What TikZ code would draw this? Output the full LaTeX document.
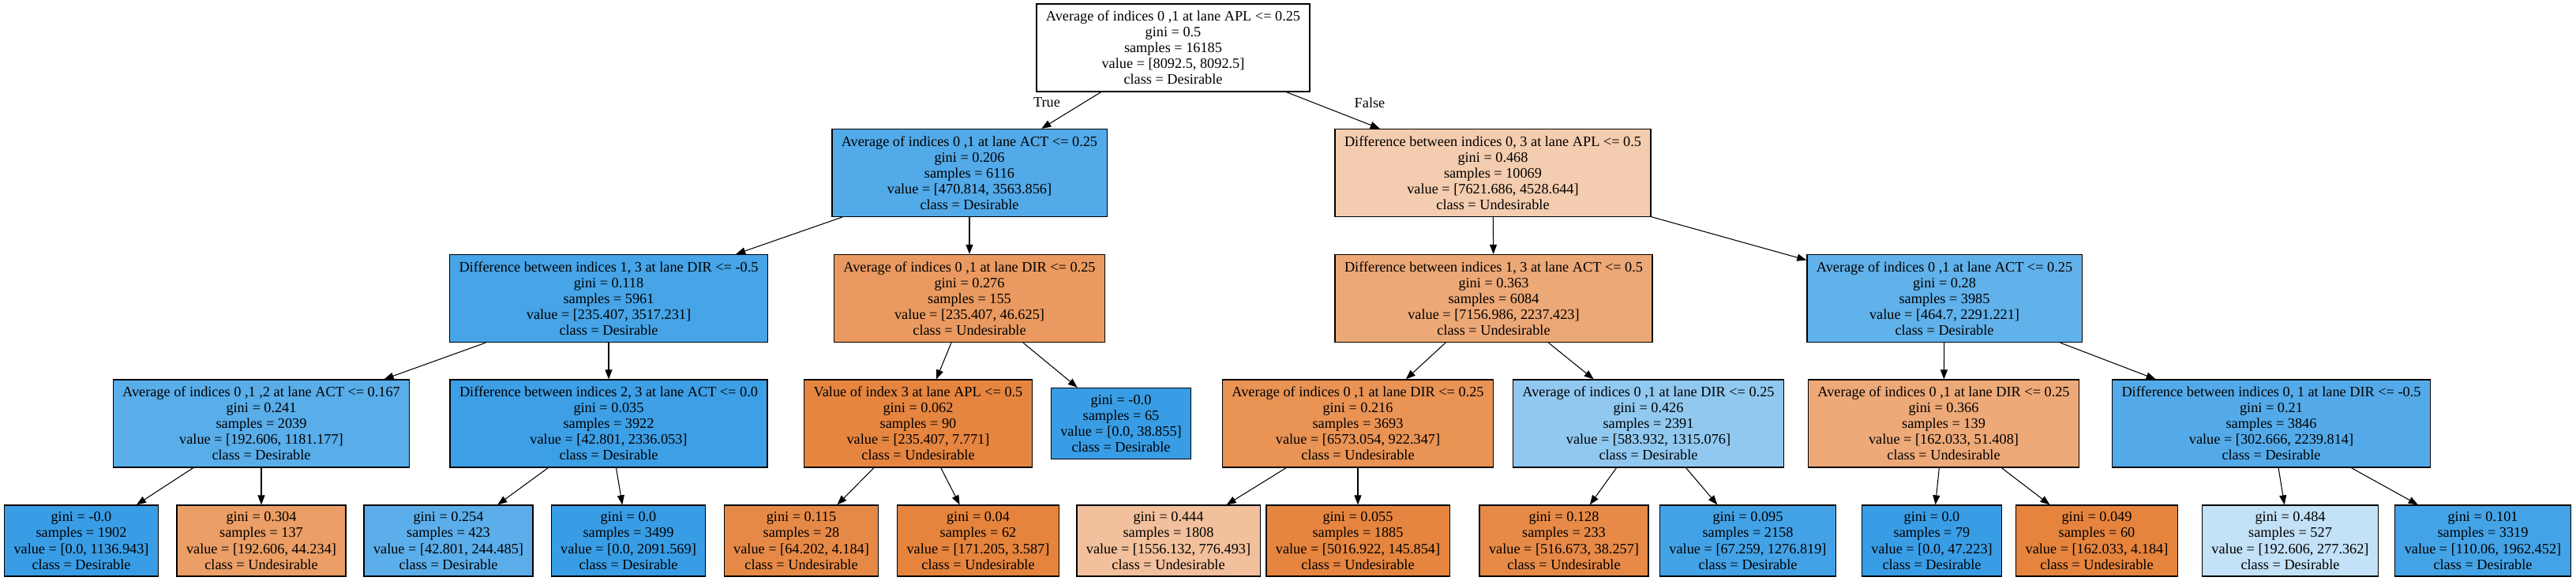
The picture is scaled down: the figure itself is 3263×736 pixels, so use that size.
\documentclass[tikz,border=0pt]{standalone}
\usepackage{fontspec}
\setmainfont{Liberation Serif}
\usetikzlibrary{arrows.meta}
\begin{document}
\begin{tikzpicture}[x=0.02cm,y=-0.02cm,font=\fontsize{10.4}{11.4}\selectfont,
 split/.style={draw,line width=0.7pt,align=center,inner xsep=0.24cm,inner ysep=0pt,minimum height=2.22cm},
 leaf/.style={split,minimum height=1.8cm},
 arr/.style={-{Triangle[length=0.24cm,width=0.18cm]},line width=0.6pt}]
 \useasboundingbox(0,0)rectangle(3263,736);
 % root
 \node[split](R) at (1486,60.5){Average of indices 0 ,1 at lane APL <= 0.25\\gini = 0.5\\samples = 16185\\value = [8092.5, 8092.5]\\class = Desirable};
 % second level
 \node[split,fill={rgb,255:red,83;green,170;blue,232}](A1) at (1228,219){Average of indices 0 ,1 at lane ACT <= 0.25\\gini = 0.206\\samples = 6116\\value = [470.814, 3563.856]\\class = Desirable};
 \node[split,fill={rgb,255:red,244;green,204;blue,175}](A2) at (1891,219){Difference between indices 0, 3 at lane APL <= 0.5\\gini = 0.468\\samples = 10069\\value = [7621.686, 4528.644]\\class = Undesirable};
 % third level
 \node[split,fill={rgb,255:red,70;green,164;blue,231}](B1) at (771,378){Difference between indices 1, 3 at lane DIR <= -0.5\\gini = 0.118\\samples = 5961\\value = [235.407, 3517.231]\\class = Desirable};
 \node[split,fill={rgb,255:red,234;green,154;blue,96}](B2) at (1228,378){Average of indices 0 ,1 at lane DIR <= 0.25\\gini = 0.276\\samples = 155\\value = [235.407, 46.625]\\class = Undesirable};
 \node[split,fill={rgb,255:red,237;green,168;blue,119}](B3) at (1892,378){Difference between indices 1, 3 at lane ACT <= 0.5\\gini = 0.363\\samples = 6084\\value = [7156.986, 2237.423]\\class = Undesirable};
 \node[split,fill={rgb,255:red,97;green,177;blue,234}](B4) at (2463,378){Average of indices 0 ,1 at lane ACT <= 0.25\\gini = 0.28\\samples = 3985\\value = [464.7, 2291.221]\\class = Desirable};
 % fourth level
 \node[split,fill={rgb,255:red,89;green,173;blue,233}](C1) at (331,536.5){Average of indices 0 ,1 ,2 at lane ACT <= 0.167\\gini = 0.241\\samples = 2039\\value = [192.606, 1181.177]\\class = Desirable};
 \node[split,fill={rgb,255:red,61;green,159;blue,230}](C2) at (771,536.5){Difference between indices 2, 3 at lane ACT <= 0.0\\gini = 0.035\\samples = 3922\\value = [42.801, 2336.053]\\class = Desirable};
 \node[split,fill={rgb,255:red,230;green,133;blue,64}](C3) at (1163,536.5){Value of index 3 at lane APL <= 0.5\\gini = 0.062\\samples = 90\\value = [235.407, 7.771]\\class = Undesirable};
 \node[leaf,fill={rgb,255:red,57;green,157;blue,229}](C4) at (1420,536.5){gini = -0.0\\samples = 65\\value = [0.0, 38.855]\\class = Desirable};
 \node[split,fill={rgb,255:red,233;green,147;blue,85}](C5) at (1720,536.5){Average of indices 0 ,1 at lane DIR <= 0.25\\gini = 0.216\\samples = 3693\\value = [6573.054, 922.347]\\class = Undesirable};
 \node[split,fill={rgb,255:red,145;green,200;blue,240}](C6) at (2088,536.5){Average of indices 0 ,1 at lane DIR <= 0.25\\gini = 0.426\\samples = 2391\\value = [583.932, 1315.076]\\class = Desirable};
 \node[split,fill={rgb,255:red,237;green,169;blue,120}](C7) at (2462,536.5){Average of indices 0 ,1 at lane DIR <= 0.25\\gini = 0.366\\samples = 139\\value = [162.033, 51.408]\\class = Undesirable};
 \node[split,fill={rgb,255:red,84;green,170;blue,233}](C8) at (2877,536.5){Difference between indices 0, 1 at lane DIR <= -0.5\\gini = 0.21\\samples = 3846\\value = [302.666, 2239.814]\\class = Desirable};
 % leaves
 \node[leaf,fill={rgb,255:red,57;green,157;blue,229}](D1) at (103,685){gini = -0.0\\samples = 1902\\value = [0.0, 1136.943]\\class = Desirable};
 \node[leaf,fill={rgb,255:red,235;green,158;blue,102}](D2) at (331,685){gini = 0.304\\samples = 137\\value = [192.606, 44.234]\\class = Undesirable};
 \node[leaf,fill={rgb,255:red,92;green,174;blue,234}](D3) at (568,685){gini = 0.254\\samples = 423\\value = [42.801, 244.485]\\class = Desirable};
 \node[leaf,fill={rgb,255:red,57;green,157;blue,229}](D4) at (796,685){gini = 0.0\\samples = 3499\\value = [0.0, 2091.569]\\class = Desirable};
 \node[leaf,fill={rgb,255:red,231;green,137;blue,70}](D5) at (1015,685){gini = 0.115\\samples = 28\\value = [64.202, 4.184]\\class = Undesirable};
 \node[leaf,fill={rgb,255:red,230;green,132;blue,61}](D6) at (1239,685){gini = 0.04\\samples = 62\\value = [171.205, 3.587]\\class = Undesirable};
 \node[leaf,fill={rgb,255:red,242;green,192;blue,156}](D7) at (1480,685){gini = 0.444\\samples = 1808\\value = [1556.132, 776.493]\\class = Undesirable};
 \node[leaf,fill={rgb,255:red,230;green,133;blue,63}](D8) at (1720,685){gini = 0.055\\samples = 1885\\value = [5016.922, 145.854]\\class = Undesirable};
 \node[leaf,fill={rgb,255:red,231;green,138;blue,72}](D9) at (1981,685){gini = 0.128\\samples = 233\\value = [516.673, 38.257]\\class = Undesirable};
 \node[leaf,fill={rgb,255:red,67;green,162;blue,230}](D10) at (2214,685){gini = 0.095\\samples = 2158\\value = [67.259, 1276.819]\\class = Desirable};
 \node[leaf,fill={rgb,255:red,57;green,157;blue,229}](D11) at (2447,685){gini = 0.0\\samples = 79\\value = [0.0, 47.223]\\class = Desirable};
 \node[leaf,fill={rgb,255:red,230;green,132;blue,62}](D12) at (2656,685){gini = 0.049\\samples = 60\\value = [162.033, 4.184]\\class = Undesirable};
 \node[leaf,fill={rgb,255:red,195;green,225;blue,247}](D13) at (2901,685){gini = 0.484\\samples = 527\\value = [192.606, 277.362]\\class = Desirable};
 \node[leaf,fill={rgb,255:red,68;green,163;blue,230}](D14) at (3145,685){gini = 0.101\\samples = 3319\\value = [110.06, 1962.452]\\class = Desirable};
 % edges
 \path (R) edge[arr] (A1) edge[arr] (A2);
 \node(T) at (1326,130){True};
 \node(F) at (1735,130){False};
 \path (A1) edge[arr] (B1) edge[arr] (B2);
 \path (A2) edge[arr] (B3) edge[arr] (B4);
 \path (B1) edge[arr] (C1) edge[arr] (C2);
 \path (B2) edge[arr] (C3) edge[arr] (C4);
 \path (B3) edge[arr] (C5) edge[arr] (C6);
 \path (B4) edge[arr] (C7) edge[arr] (C8);
 \path (C1) edge[arr] (D1) edge[arr] (D2);
 \path (C2) edge[arr] (D3) edge[arr] (D4);
 \path (C3) edge[arr] (D5) edge[arr] (D6);
 \path (C5) edge[arr] (D7) edge[arr] (D8);
 \path (C6) edge[arr] (D9) edge[arr] (D10);
 \path (C7) edge[arr] (D11) edge[arr] (D12);
 \path (C8) edge[arr] (D13) edge[arr] (D14);
\end{tikzpicture}
\end{document}
